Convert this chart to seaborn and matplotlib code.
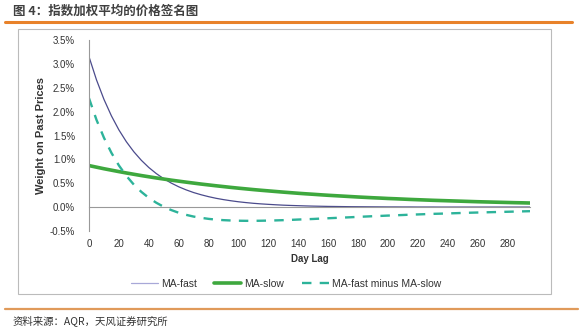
import numpy as np
import pandas as pd
import matplotlib
matplotlib.use("Agg")
import matplotlib.pyplot as plt
import seaborn as sns
from matplotlib.ticker import FuncFormatter

sns.set_theme(style="white")
plt.rcParams['font.family'] = ['Liberation Sans', 'Noto Sans CJK SC', 'DejaVu Sans']

# ---- data (% weight) ----
day_lag = list(range(0, 300, 5))
ma_fast = [3.150, 2.666, 2.257, 1.911, 1.617, 1.369, 1.159, 0.981, 0.830, 0.703,
           0.595, 0.504, 0.426, 0.361, 0.305, 0.259, 0.219, 0.185, 0.157, 0.133,
           0.112, 0.095, 0.080, 0.068, 0.058, 0.049, 0.041, 0.035, 0.030, 0.025,
           0.021, 0.018, 0.015, 0.013, 0.011, 0.009, 0.008, 0.007, 0.006, 0.005,
           0.004, 0.004, 0.003, 0.003, 0.002, 0.002, 0.002, 0.001, 0.001, 0.001,
           0.001, 0.001, 0.001, 0.001, 0.001, 0.001, 0.001, 0.001, 0.001, 0.001]
ma_slow = [0.870, 0.837, 0.804, 0.774, 0.744, 0.715, 0.688, 0.661, 0.636, 0.611,
           0.588, 0.565, 0.544, 0.523, 0.503, 0.483, 0.465, 0.447, 0.430, 0.413,
           0.397, 0.382, 0.367, 0.353, 0.340, 0.327, 0.314, 0.302, 0.290, 0.279,
           0.269, 0.258, 0.248, 0.239, 0.230, 0.221, 0.212, 0.204, 0.196, 0.189,
           0.181, 0.175, 0.168, 0.161, 0.155, 0.149, 0.143, 0.138, 0.133, 0.128,
           0.123, 0.118, 0.113, 0.109, 0.105, 0.101, 0.097, 0.093, 0.090, 0.086]
fast_minus_slow = [2.280, 1.829, 1.453, 1.137, 0.873, 0.654, 0.471, 0.320, 0.194, 0.092,
                   0.007, -0.061, -0.118, -0.162, -0.198, -0.224, -0.246, -0.262, -0.273, -0.280,
                   -0.285, -0.287, -0.287, -0.285, -0.282, -0.278, -0.273, -0.267, -0.260, -0.254,
                   -0.248, -0.240, -0.233, -0.226, -0.219, -0.212, -0.204, -0.197, -0.190, -0.184,
                   -0.177, -0.171, -0.165, -0.158, -0.153, -0.147, -0.141, -0.137, -0.132, -0.127,
                   -0.122, -0.117, -0.113, -0.109, -0.105, -0.101, -0.097, -0.093, -0.089, -0.085]

x_ticks = list(range(0, 300, 20))
y_ticks = [-0.5, 0.0, 0.5, 1.0, 1.5, 2.0, 2.5, 3.0, 3.5]

title = "图 4：指数加权平均的价格签名图"
source = "资料来源：AQR，天风证券研究所"
series_names = ["MA-fast", "MA-slow", "MA-fast minus MA-slow"]

df = pd.DataFrame({"day": day_lag, series_names[0]: ma_fast,
                   series_names[1]: ma_slow, series_names[2]: fast_minus_slow})

W, H = 583, 331
fig = plt.figure(figsize=(W / 100, H / 100), dpi=100)
fig.patch.set_facecolor("white")

# frame around chart
fig.add_artist(plt.Rectangle((18 / W, 1 - 294 / H), (551 - 18) / W, (294 - 29) / H,
                             transform=fig.transFigure, fill=False, ec="#BBBBBB", lw=0.8))
# orange rules
orange = "#E8822A"
fig.add_artist(plt.Line2D([5 / W, 572 / W], [1 - 22 / H, 1 - 22 / H], color=orange, lw=2.2,
                          transform=fig.transFigure))
fig.add_artist(plt.Line2D([5 / W, 578 / W], [1 - 309 / H, 1 - 309 / H], color="#E09A5A", lw=1.6,
                          transform=fig.transFigure))
fig.text(13 / W, 1 - 11 / H, title, fontsize=9, fontweight="bold", color="#404040",
         family=['Noto Sans CJK SC', 'DejaVu Sans'], va="center", ha="left")
fig.text(13 / W, 1 - 321 / H, source, fontsize=7.5, color="#333333",
         family=['Noto Sans CJK SC', 'DejaVu Sans'], va="center", ha="left")

ax = fig.add_axes([89 / W, 1 - 231 / H, (530 - 89) / W, (231 - 40) / H])
ax.set_facecolor("white")

sns.lineplot(data=df, x="day", y=series_names[0], ax=ax, color="#4B4B8C", lw=0.9,
             label=series_names[0])
sns.lineplot(data=df, x="day", y=series_names[1], ax=ax, color="#3EA83E", lw=2.6,
             label=series_names[1])
sns.lineplot(data=df, x="day", y=series_names[2], ax=ax, color="#2DB39A", lw=1.7,
             label=series_names[2], dashes=False)
ax.lines[-1].set_dashes([4, 3.5])

ax.set_xlim(0, 295)
ax.set_ylim(-0.5, 3.5)
ax.set_xticks(x_ticks)
ax.set_yticks(y_ticks)
ax.yaxis.set_major_formatter(FuncFormatter(lambda v, p: f"{v:.1f}%"))

for s in ["top", "right"]:
    ax.spines[s].set_visible(False)
ax.spines["left"].set_color("#999999")
ax.spines["left"].set_linewidth(0.8)
ax.spines["bottom"].set_position(("data", 0))
ax.spines["bottom"].set_color("#999999")
ax.spines["bottom"].set_linewidth(0.8)

ax.tick_params(axis="y", direction="out", length=3, width=0.7, color="#999999",
               labelsize=7, labelcolor="#333333", pad=7)
ax.tick_params(axis="x", direction="out", length=3, width=0.7, color="#999999",
               labelsize=7, labelcolor="#333333", pad=20)

ax.set_xlabel("Day Lag", fontsize=7, fontweight="bold", color="#333333")
ax.set_ylabel("Weight on Past Prices", fontsize=8, fontweight="bold", color="#333333")
ax.xaxis.set_label_coords(0.5, -0.12)
ax.yaxis.set_label_coords(-0.098, 0.5)

leg = ax.legend(loc="upper center", bbox_to_anchor=(0.447, -0.2), ncol=3, frameon=False,
                fontsize=7.5, handlelength=2.6, handletextpad=0.3, columnspacing=1.7)
for t in leg.get_texts():
    t.set_color("#333333")
leg.get_lines()[0].set_color("#A8A8D8")

fig.savefig("out.png", dpi=100, facecolor="white")
